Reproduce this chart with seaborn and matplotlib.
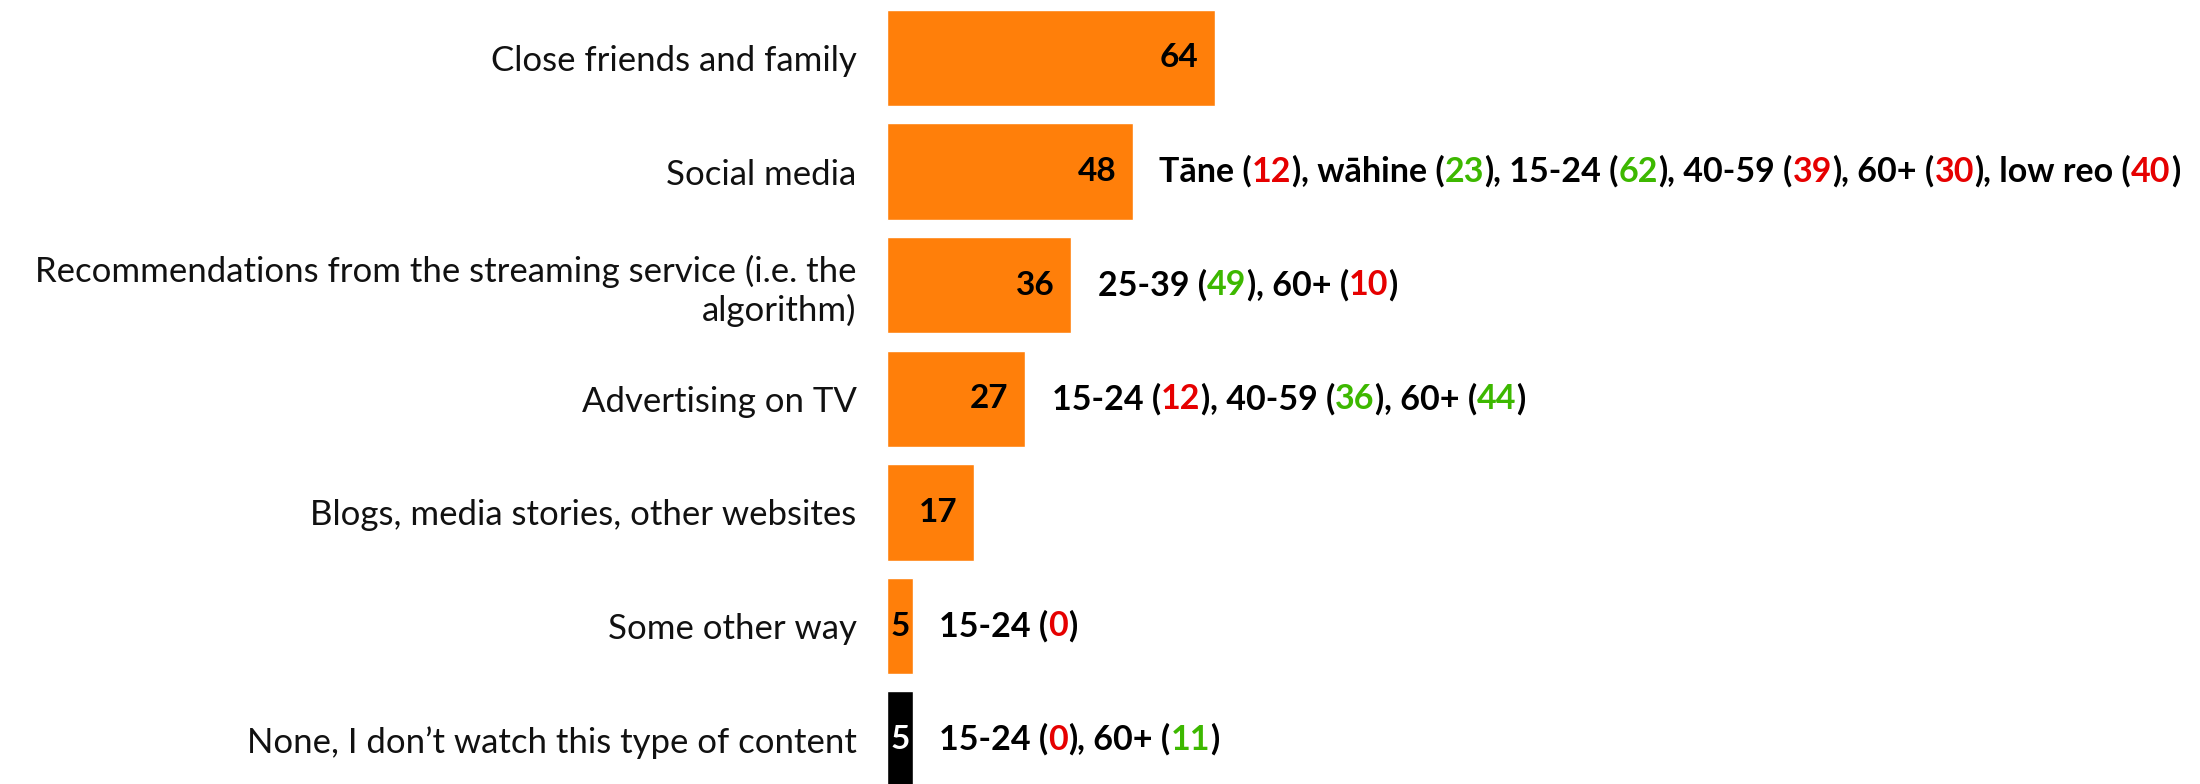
import matplotlib
matplotlib.use("Agg")
import matplotlib.pyplot as plt
import seaborn as sns
import pandas as pd

# ---------------- data ----------------
categories = [
    "Close friends and family",
    "Social media",
    "Recommendations from the streaming service (i.e. the\nalgorithm)",
    "Advertising on TV",
    "Blogs, media stories, other websites",
    "Some other way",
    "None, I don\u2019t watch this type of content",
]
values = [64, 48, 36, 27, 17, 5, 5]
bar_colors = ["#FF7F0A"] * 6 + ["#000000"]
value_text_colors = ["black"] * 6 + ["white"]

# subgroup call-outs: label, value, direction (+1 higher / -1 lower)
sub_labels = [
    [],
    ["T\u0101ne", "w\u0101hine", "15-24", "40-59", "60+", "low reo"],
    ["25-39", "60+"],
    ["15-24", "40-59", "60+"],
    [],
    ["15-24"],
    ["15-24", "60+"],
]
sub_values = [
    [],
    [12, 23, 62, 39, 30, 40],
    [49, 10],
    [12, 36, 44],
    [],
    [0],
    [0, 11],
]
sub_dirs = [
    [],
    [-1, 1, 1, -1, -1, -1],
    [1, -1],
    [-1, 1, 1],
    [],
    [-1],
    [-1, 1],
]
dir_colors = {1: "#3DB800", -1: "#E60000"}

# ---------------- figure ----------------
sns.set_theme(style="white")
plt.rcParams["font.family"] = ["Lato", "DejaVu Sans"]

fig = plt.figure(figsize=(22, 7.84), dpi=100)
ax = fig.add_axes([0.4032, 0.0, 0.5968, 1.0])

df = pd.DataFrame({"category": categories, "value": values})
sns.barplot(data=df, x="value", y="category", hue="category",
            palette=bar_colors, legend=False, width=0.85, ax=ax,
            saturation=1, orient="h")

ax.set_xlim(0, 256.4)
ax.set_ylim(6.39, -0.51)
for s in ax.spines.values():
    s.set_visible(False)
ax.set_xticks([])
ax.set_xlabel("")
ax.set_ylabel("")
ax.tick_params(axis="y", length=0, pad=22)
ax.set_yticks(range(len(categories)))
ax.set_yticklabels(categories, fontsize=25, color="#111111", linespacing=1.2)
for lab in ax.get_yticklabels():
    lab.set_horizontalalignment("right")
    lab.set_multialignment("right")

VFS = 24
FS = 24.5
for i, v in enumerate(values):
    if v < 8:
        ax.text(v / 2, i, str(v), ha="center", va="center", fontsize=VFS,
                fontweight="bold", color=value_text_colors[i])
    else:
        ax.annotate(str(v), xy=(v, i), xytext=(-12, 0), textcoords="offset points",
                    ha="right", va="center", fontsize=VFS, fontweight="bold",
                    color=value_text_colors[i])

    labels = sub_labels[i]
    if not labels:
        continue
    segs = []
    for k, (lab, sv, d) in enumerate(zip(labels, sub_values[i], sub_dirs[i])):
        prefix = ", " if k > 0 else ""
        segs.append((prefix + lab + " (", "black"))
        segs.append((str(sv), dir_colors[d]))
        segs.append((")", "black"))
    prev = ax.annotate(segs[0][0], xy=(v, i), xytext=(19, 0),
                       textcoords="offset points", ha="left", va="center",
                       fontsize=FS, fontweight="bold", color=segs[0][1])
    for txt, col in segs[1:]:
        prev = ax.annotate(txt, xycoords=prev, xy=(1, 0), ha="left",
                           va="bottom", fontsize=FS, fontweight="bold", color=col)

fig.savefig("out.png", dpi=100)
